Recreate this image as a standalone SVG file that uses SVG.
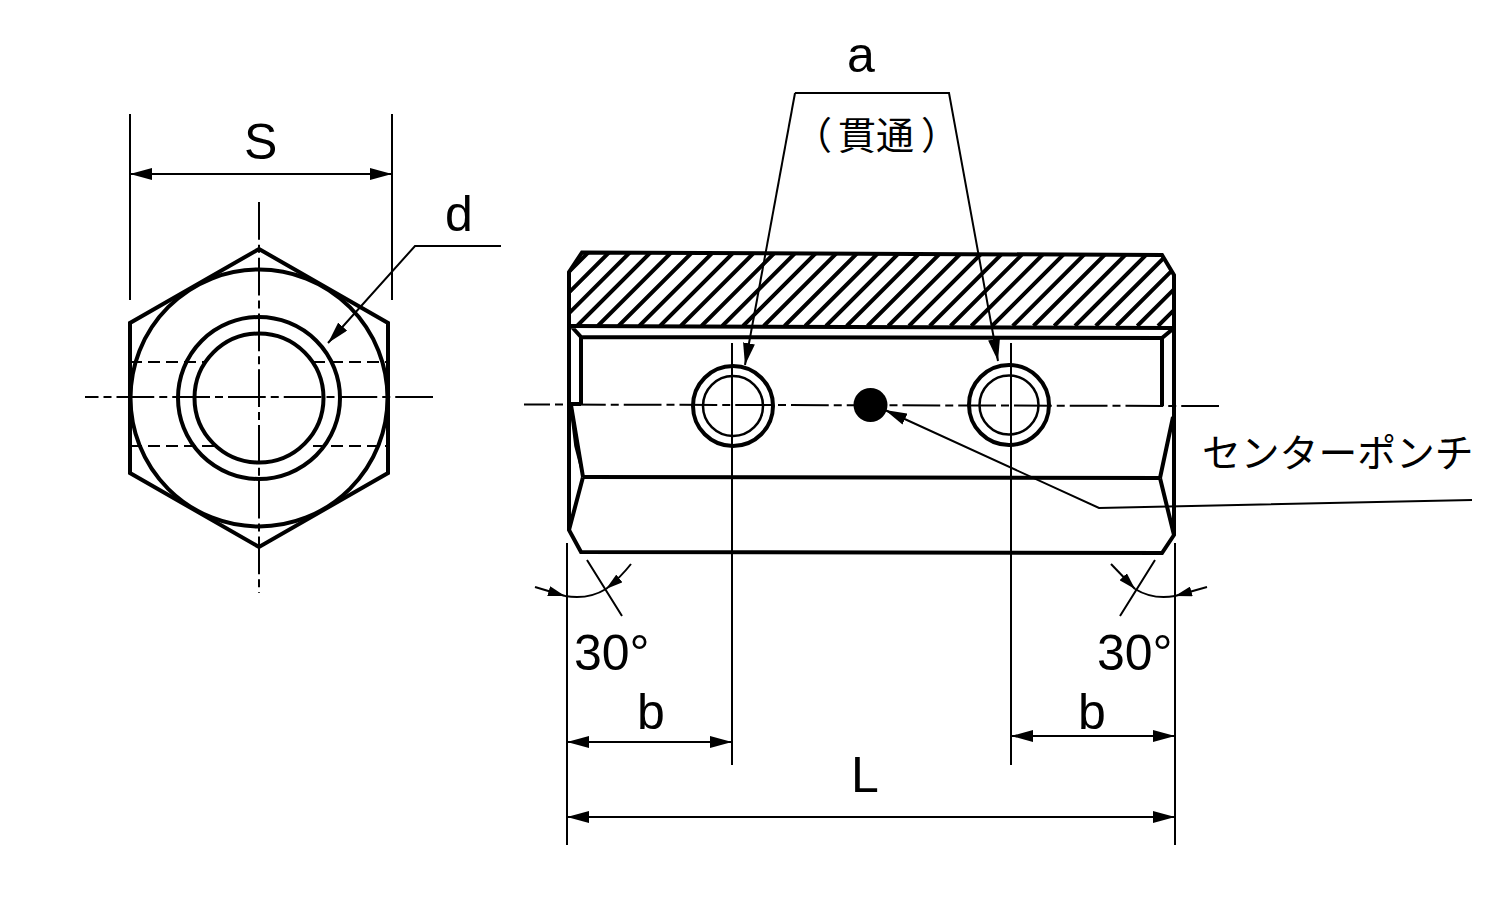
<svg xmlns="http://www.w3.org/2000/svg" width="1500" height="900" viewBox="0 0 1500 900">
<style>
.o{fill:none;stroke:#000;stroke-width:4;stroke-linejoin:miter}
.m{fill:none;stroke:#000;stroke-width:2.500}
.c{fill:none;stroke:#000;stroke-width:2;stroke-dasharray:37.750 5 8 5}
.h{fill:none;stroke:#000;stroke-width:2.200;stroke-dasharray:12 6}
.t{fill:none;stroke:#000;stroke-width:2}
text{font-family:"Liberation Sans",Arial,sans-serif;font-size:50px;fill:#000}
.j{font-family:"Noto Sans CJK JP","Liberation Sans",sans-serif}
</style>
<defs>
<marker id="ar" viewBox="0 0 22 12" refX="22" refY="6" markerWidth="22" markerHeight="12" markerUnits="userSpaceOnUse" orient="auto-start-reverse"><path d="M0 0L22 6L0 12Z" fill="#000"/></marker>
<marker id="as" viewBox="0 0 17 10" refX="17" refY="5" markerWidth="17" markerHeight="10" markerUnits="userSpaceOnUse" orient="auto"><path d="M0 0L17 5L0 10Z" fill="#000"/></marker>
<clipPath id="hc"><path d="M582 252.500L1162 255L1174 275L1174 326L570 326L569 272Z"/></clipPath>
</defs>
<g id="end-view">
<path class="o" d="M259 249L388 323V473L259 547L130 473V323Z"/>
<circle class="o" cx="259" cy="398" r="128.500"/>
<circle class="o" cx="259" cy="398" r="81"/>
<circle class="o" cx="259" cy="398" r="64.500"/>
<path class="h" d="M130 362H205M313 362H388M130 446H216M313 446H388"/>
<path class="c" d="M433 397H85M259 202V593"/>
</g>
<g id="side-view">
<path class="o" d="M582 252.500L1162 255L1174 275V535L1162 553L581 552L569 530V272Z"/>
<path clip-path="url(#hc)" fill="none" stroke="#000" stroke-width="4" d="M514.750 326l76-76M535.500 326l76-76M556.250 326l76-76M577 326l76-76M597.750 326l76-76M618.500 326l76-76M639.250 326l76-76M660 326l76-76M680.750 326l76-76M701.500 326l76-76M722.250 326l76-76M743 326l76-76M763.750 326l76-76M784.500 326l76-76M805.250 326l76-76M826 326l76-76M846.750 326l76-76M867.500 326l76-76M888.250 326l76-76M909 326l76-76M929.750 326l76-76M950.500 326l76-76M971.250 326l76-76M992 326l76-76M1012.750 326l76-76M1033.500 326l76-76M1054.250 326l76-76M1075 326l76-76M1095.750 326l76-76M1116.500 326l76-76M1137.250 326l76-76M1158 326l76-76"/>
<path class="o" d="M570 326L1174 328M571 326L581 337V404M581 337L1162 338V406M1174 328L1162 338M583 477L1160 478M570 404H581"/>
<path class="o" d="M583 477L569 530M1160 478L1174 535M1160 478L1173 417M571 405L583 477"/>
<path d="M570 405L583 477L575 446Z" fill="#000" stroke="#000" stroke-width="1.500"/>
</g>
<g id="hole-left"><circle class="o" cx="733" cy="406" r="40"/><circle class="m" cx="733" cy="406" r="30"/></g>
<g id="hole-right"><circle class="o" cx="1009" cy="405" r="40"/><circle class="m" cx="1009" cy="405" r="29.500"/></g>
<g id="center-punch"><circle cx="870.500" cy="405" r="17" fill="#000"/></g>
<g id="connectors">
<path class="c" stroke-dashoffset="11.750" d="M524 404.500L1219 406"/>
<path class="t" d="M130 114V300M392 114V300M732 343V765M1011 343V765M567 543V845M1175 543V845M587 560L622 616M1155 560L1120 616"/>
<path class="t" marker-start="url(#ar)" marker-end="url(#ar)" d="M130 174H392"/>
<path class="t" marker-end="url(#ar)" d="M501 246H415L328 343"/>
<path class="t" marker-end="url(#ar)" d="M795 93L745 365"/>
<path class="t" marker-end="url(#ar)" d="M795 93H949L998 361"/>
<path class="t" marker-end="url(#ar)" d="M1472 500L1099 508L885 410"/>
<path class="t" marker-start="url(#ar)" marker-end="url(#ar)" d="M567 742H732"/>
<path class="t" marker-start="url(#ar)" marker-end="url(#ar)" d="M1011 736H1175"/>
<path class="t" marker-start="url(#ar)" marker-end="url(#ar)" d="M567 817H1175"/>
<path class="t" d="M565 596Q588 600 606 589M1135 589Q1153 600 1175 596"/>
<path class="t" marker-end="url(#as)" d="M535 587L565 596"/>
<path class="t" marker-end="url(#as)" d="M631 564Q620 578 606 589"/>
<path class="t" marker-end="url(#as)" d="M1111 564L1135 589"/>
<path class="t" marker-end="url(#as)" d="M1207 587L1175 596"/>
</g>
<g id="labels">
<text x="244" y="159">S</text>
<text x="445" y="231">d</text>
<text x="847" y="72">a</text>
<text class="j" x="794 838 876 921" y="149" style="font-size:38px">（貫通）</text>
<text class="j" x="1202" y="467" style="font-size:38.800px">センターポンチ</text>
<text x="574" y="670">30°</text>
<text x="1097" y="670">30°</text>
<text x="637" y="729">b</text>
<text x="1078" y="729">b</text>
<text x="851" y="792">L</text>
</g>
</svg>
